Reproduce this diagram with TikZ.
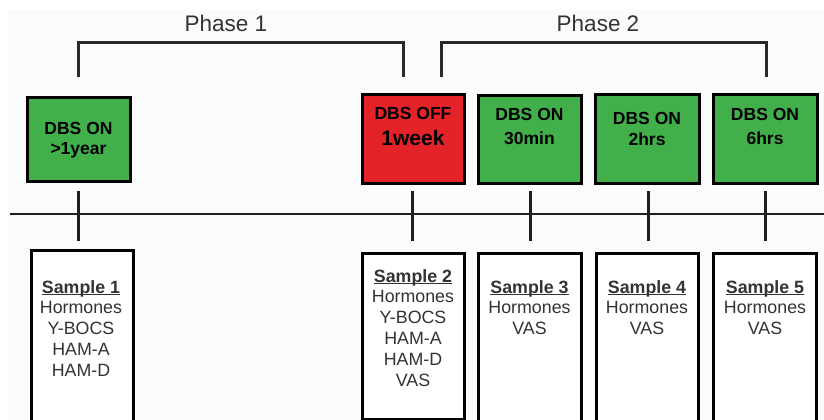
\documentclass[tikz,border=0pt]{standalone}
\usepackage{fontspec}
\setmainfont{Liberation Sans}
\definecolor{bg}{HTML}{FAFBFC}
\definecolor{dbsgreen}{HTML}{41B04A}
\definecolor{dbsred}{HTML}{E32327}
\definecolor{txtgray}{HTML}{333333}
\newcommand\sampletitle[1]{\setbox0\hbox{\bfseries #1}\rlap{\rule[-2.2pt]{\wd0}{1.2pt}}\box0}
\begin{document}
\begin{tikzpicture}[x=1pt,y=-1pt,
  phase/.style={font=\fontsize{22.5}{24}\selectfont, text=txtgray, inner sep=0pt},
  topbox/.style={draw=black, line width=3pt, inner sep=0pt},
  onbox/.style={topbox, fill=dbsgreen},
  offbox/.style={topbox, fill=dbsred},
  boxtxt/.style={font=\bfseries\fontsize{17.5}{22}\selectfont, align=center, inner sep=0pt},
  samplebox/.style={draw=black, line width=3pt, fill=white, inner sep=0pt},
  sampletxt/.style={font=\fontsize{17.8}{20.8}\selectfont, text=txtgray, align=center, inner sep=0pt, anchor=north},
  bracket/.style={draw=txtgray!80!black, line width=3pt},
  timeline/.style={draw=txtgray!60!black, line width=2.6pt},
  tick/.style={draw=txtgray!60!black, line width=3pt}
]
\useasboundingbox (0,0) rectangle (824,420);
\fill[white] (0,0) rectangle (824,420);
\fill[bg] (8,10) rectangle (824,420);

% phase labels
\node[phase] (p1) at (226,23) {Phase 1};
\node[phase] (p2) at (598,23) {Phase 2};

% brackets
\coordinate (b1a) at (78,77); \coordinate (b1b) at (403,77);
\coordinate (b2a) at (441,77); \coordinate (b2b) at (766,77);
\draw[bracket] (b1a) -- ++(0,-34) -| (b1b);
\draw[bracket] (b2a) -- ++(0,-34) -| (b2b);

% top boxes
\path[onbox]  (27,97)  rectangle (130,181) node[pos=.5] (t1) {};
\path[offbox] (362,94) rectangle (464,183) node[pos=.5] (t2) {};
\path[onbox]  (478,95) rectangle (581,183) node[pos=.5] (t3) {};
\path[onbox]  (595,94) rectangle (699,183) node[pos=.5] (t4) {};
\path[onbox]  (713,94) rectangle (817,183) node[pos=.5] (t5) {};

\node[boxtxt] (t1a) at (78.5,128) {DBS ON};
\node[boxtxt] (t1b) at (78.5,150) {{>}1year};
\node[boxtxt] (t2a) at (413,113) {DBS OFF};
\node[boxtxt, font=\bfseries\fontsize{21}{22}\selectfont] (t2b) at (413,137.5) {1week};
\node[boxtxt] (t3a) at (529.5,114) {DBS ON};
\node[boxtxt] (t3b) at (529.5,138) {30min};
\node[boxtxt] (t4a) at (647,118) {DBS ON};
\node[boxtxt] (t4b) at (647,139.5) {2hrs};
\node[boxtxt] (t5a) at (765,114) {DBS ON};
\node[boxtxt] (t5b) at (765,138) {6hrs};

% timeline
\coordinate (tlA) at (10,214); \coordinate (tlB) at (824,214);
\draw[timeline] (tlA) -- (tlB);

% ticks
\foreach \x/\n in {78/1,412/2,530/3,648/4,765/5}{
  \coordinate (ka\n) at (\x,191);
  \coordinate (kb\n) at (\x,241);
  \draw[tick] (ka\n) -- (kb\n);
}

% sample boxes
\path[samplebox] (31,250)  rectangle (133,425) node[pos=.5] (s1) {};
\path[samplebox] (362,253) rectangle (464,419) node[pos=.5] (s2) {};
\path[samplebox] (478,253) rectangle (581,425) node[pos=.5] (s3) {};
\path[samplebox] (596,253) rectangle (698,425) node[pos=.5] (s4) {};
\path[samplebox] (713,253) rectangle (816,425) node[pos=.5] (s5) {};

\node[sampletxt] (s1t) at (81,280) {\sampletitle{Sample 1}\\Hormones\\Y-BOCS\\HAM-A\\HAM-D};
\node[sampletxt] (s2t) at (413,269) {\sampletitle{Sample 2}\\Hormones\\Y-BOCS\\HAM-A\\HAM-D\\VAS};
\node[sampletxt] (s3t) at (529.5,280) {\sampletitle{Sample 3}\\Hormones\\VAS};
\node[sampletxt] (s4t) at (647,280) {\sampletitle{Sample 4}\\Hormones\\VAS};
\node[sampletxt] (s5t) at (765,280) {\sampletitle{Sample 5}\\Hormones\\VAS};
\end{tikzpicture}
\end{document}
